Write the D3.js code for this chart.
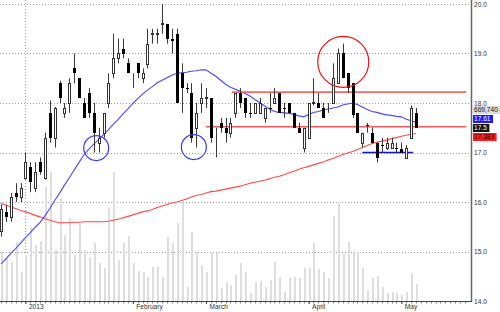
<!DOCTYPE html>
<html>
<head>
<meta charset="utf-8">
<script src="https://cdn.jsdelivr.net/npm/d3@7"></script>
<style>
  html, body { margin: 0; padding: 0; background: #fff; }
  svg text { font-family: "Liberation Sans", Arial, sans-serif; font-size: 6.6px; fill: #333; }
</style>
</head>
<body>
<svg id="chart" width="500" height="312"></svg>
<script>
// daily candles, late Dec 2012 .. early May 2013
var opens  = [15.4,15.8,15.7,16.18,16.1,16.48,16.7,16.28,16.8,16.5,17.8,17.3,18.4,17.8,18.0,18.7,18.5,18.0,18.2,17.8,17.2,17.4,18.0,18.6,18.9,
              19.1,18.8,18.5,18.8,18.5,18.8,19.4,19.4,19.6,19.6,19.3,19.4,18.6,18.3,18.2,17.5,18.0,18.1,18.1,17.45,17.6,17.5,17.4,17.8,
              18.2,18.1,17.8,17.8,17.8,17.7,17.9,18.0,18.2,17.9,18.0,17.8,17.5,17.1,17.3,18.0,18.0,17.9,17.9,18.0,18.4,19.0,18.6,18.4,
              17.8,17.2,17.55,17.4,17.2,17.15,17.1,17.1,17.1,17.08,16.9,17.3,17.8];
var highs  = [15.95,15.94,16.18,16.38,16.38,17.0,16.8,16.8,16.9,17.4,18.05,17.92,18.45,18.0,18.5,19.0,18.5,18.1,18.3,18.0,17.5,17.8,18.6,19.4,19.3,
              19.3,18.9,18.6,18.8,18.7,19.5,19.5,19.5,20.0,19.6,19.5,19.5,18.8,18.4,18.4,18.0,18.4,18.3,18.1,17.5,17.7,17.7,17.7,18.2,
              18.3,18.1,18.0,18.0,18.1,17.9,18.2,18.3,18.2,18.0,18.0,17.8,17.6,17.5,18.0,18.5,18.2,18.0,18.0,18.8,19.1,19.2,18.6,18.4,
              17.8,17.4,17.6,17.5,17.2,17.3,17.3,17.3,17.2,17.2,17.15,17.95,17.9];
var lows   = [15.3,15.6,15.6,16.0,16.0,16.45,16.2,16.2,16.55,16.45,17.2,17.1,18.0,17.7,17.8,18.4,18.1,17.7,17.7,17.0,17.0,17.3,17.9,18.5,18.8,
              18.9,18.6,18.3,18.5,18.4,18.7,19.2,19.2,19.4,19.2,19.0,18.0,17.8,18.2,17.2,17.1,17.8,17.9,17.2,16.9,17.4,17.2,17.3,17.7,
              17.9,17.7,17.7,17.8,17.8,17.6,17.8,18.0,17.8,17.7,17.8,17.5,17.4,17.0,17.3,17.95,17.9,17.7,17.8,18.0,18.4,18.5,18.2,17.7,
              17.4,17.1,17.4,17.2,16.8,17.0,17.05,17.1,17.0,17.0,16.9,17.3,17.5];
var closes = [15.85,15.7,16.1,16.1,16.28,16.8,16.4,16.6,16.6,17.3,17.3,17.9,18.1,17.9,18.4,18.6,18.1,17.7,17.8,17.4,17.3,17.8,18.4,18.9,19.0,
              19.0,18.6,18.5,18.6,18.6,19.2,19.42,19.42,19.62,19.3,19.25,18.0,18.3,18.28,17.3,17.8,18.1,18.12,17.3,17.45,17.5,17.4,17.6,18.2,
              18.0,17.8,17.78,18.0,18.0,17.9,17.88,18.1,17.8,17.88,17.8,17.5,17.4,17.5,18.0,18.02,17.9,17.7,17.9,18.5,19.0,18.5,18.3,17.75,
              17.4,17.4,17.53,17.2,16.9,17.14,17.2,17.2,17.09,17.0,17.1,17.9,17.5];
// volume, thousands of shares
var volumes = [1931,1694,1537,2325,1143,1812,2916,2206,2364,4492,5083,2009,4058,2600,3270,1812,3073,2009,1734,2285,1497,1300,3664,5083,1615,
               2285,2561,1497,1182,1143,946,1340,1340,946,2522,2285,3073,3861,552,2719,1931,1418,1143,1891,1891,512,749,630,1024,
               1497,1143,315,749,788,552,827,1537,946,355,906,946,906,1300,1300,2285,1261,1143,906,3349,3901,1891,2325,1891,
               1931,1300,433,906,985,552,315,355,315,236,355,1103,670];
var maShort = [14.75,14.85,14.96,15.06,15.17,15.28,15.38,15.49,15.59,15.72,15.87,16.03,16.18,16.34,16.49,16.65,16.80,16.96,17.07,17.17,17.26,17.36,17.46,17.57,17.67,
               17.78,17.88,17.99,18.09,18.18,18.26,18.33,18.41,18.46,18.51,18.56,18.60,18.61,18.62,18.64,18.65,18.67,18.67,18.60,18.54,18.46,18.38,18.32,18.28,
               18.24,18.19,18.14,18.07,18.01,17.94,17.88,17.83,17.81,17.80,17.79,17.77,17.74,17.72,17.77,17.81,17.83,17.86,17.88,17.90,17.92,17.96,17.98,18.00,
               17.97,17.92,17.87,17.83,17.81,17.78,17.76,17.75,17.73,17.72,17.67,17.64,17.61];
var maLong  = [15.97,15.94,15.90,15.87,15.83,15.80,15.77,15.73,15.70,15.66,15.63,15.60,15.58,15.58,15.58,15.59,15.59,15.60,15.60,15.60,15.60,15.60,15.61,15.63,15.65,
               15.68,15.71,15.74,15.77,15.80,15.82,15.85,15.89,15.92,15.95,15.98,16.00,16.03,16.06,16.10,16.13,16.15,16.18,16.21,16.22,16.24,16.26,16.28,16.30,
               16.32,16.35,16.38,16.40,16.42,16.44,16.47,16.50,16.52,16.55,16.59,16.62,16.66,16.69,16.72,16.75,16.78,16.81,16.85,16.88,16.92,16.96,16.99,17.02,
               17.06,17.10,17.14,17.18,17.21,17.23,17.25,17.28,17.30,17.33,17.35,17.37,17.383];

var priceTicks = [14, 15, 16, 17, 18, 19, 20];
var monthIdx = [5, 27, 42, 63, 82];
var monthLabels = ["2013", "February", "March", "April", "May"];

// drawn annotations (support / resistance)
var levelValues = [18.22, 17.52, 17.0];
var levelFrom   = [47.3, 42, 74];
var levelTo     = [95.3, 95.3, 84.4];
var levelColors = ["#f06a6a", "#f05a5a", "#1010ee"];
var circleIdx   = [19.5, 39.5, 70.1];
var circleVal   = [17.09, 17.11, 18.83];
var circleR     = [12.5, 12.5, 25.5];
var circleColor = ["#3a3aff", "#3a3aff", "#ee1111"];

var svg = d3.select("#chart");
var n = closes.length;

var x = d3.scaleLinear().domain([0, n - 1]).range([1, 416]);
var y = d3.scaleLinear().domain([14, 20]).range([301, 4]);
var yVol = d3.scaleLinear().domain([0, 11860]).range([301, 0]);
var axisX = 471;

var idx = d3.range(n);
function cx(i) { return Math.round(x(i)); }

// grid
svg.append("g").selectAll("line").data(priceTicks.filter(d => d > 14)).enter().append("line")
  .attr("x1", 0).attr("x2", axisX)
  .attr("y1", d => Math.round(y(d)) + 0.5).attr("y2", d => Math.round(y(d)) + 0.5)
  .attr("stroke", "#9a9a9a").attr("stroke-dasharray", "1,2");
svg.append("line")
  .attr("x1", cx(monthIdx[0]) + 0.5).attr("x2", cx(monthIdx[0]) + 0.5)
  .attr("y1", 0).attr("y2", 301)
  .attr("stroke", "#9a9a9a").attr("stroke-dasharray", "1,2");

// volume
svg.append("g").attr("shape-rendering", "crispEdges")
  .selectAll("rect").data(idx).enter().append("rect")
  .attr("x", i => cx(i)).attr("width", 2)
  .attr("y", i => yVol(volumes[i]))
  .attr("height", i => 301 - yVol(volumes[i]))
  .attr("fill", "#dedede");

// moving averages
var line = d3.line().x((d, i) => x(i)).y(d => y(d));
svg.append("path").datum(maLong).attr("d", line)
  .attr("fill", "none").attr("stroke", "#ff4a4a").attr("stroke-width", 1.1);
svg.append("path").datum(maShort).attr("d", line)
  .attr("fill", "none").attr("stroke", "#4848ff").attr("stroke-width", 1.1);

// level lines
svg.append("g").selectAll("line").data(levelValues).enter().append("line")
  .attr("x1", (d, k) => x(levelFrom[k])).attr("x2", (d, k) => x(levelTo[k]))
  .attr("y1", d => y(d)).attr("y2", d => y(d))
  .attr("stroke", (d, k) => levelColors[k])
  .attr("stroke-width", (d, k) => k == 0 ? 1.8 : 1.4);

// candles
var candles = svg.append("g");
candles.selectAll("line").data(idx).enter().append("line")
  .attr("x1", i => cx(i) + 0.5).attr("x2", i => cx(i) + 0.5)
  .attr("y1", i => y(highs[i])).attr("y2", i => y(lows[i]))
  .attr("stroke", "#3a3a3a").attr("stroke-width", 1);
candles.selectAll("rect.up").data(idx.filter(i => closes[i] >= opens[i])).enter().append("rect")
  .attr("class", "up")
  .attr("x", i => cx(i) - 0.5).attr("width", 2)
  .attr("y", i => Math.round(y(closes[i])) + 0.5)
  .attr("height", i => Math.max(0, Math.round(y(opens[i]) - y(closes[i]))))
  .attr("fill", "#fff").attr("stroke", "#333").attr("stroke-width", 1);
candles.selectAll("rect.down").data(idx.filter(i => closes[i] < opens[i])).enter().append("rect")
  .attr("class", "down").attr("shape-rendering", "crispEdges")
  .attr("x", i => cx(i) - 1).attr("width", 3)
  .attr("y", i => Math.round(y(opens[i])))
  .attr("height", i => Math.max(1, Math.round(y(closes[i]) - y(opens[i]))))
  .attr("fill", "#000");

// circles
svg.append("g").selectAll("circle").data(circleIdx).enter().append("circle")
  .attr("cx", d => x(d)).attr("cy", (d, k) => y(circleVal[k]))
  .attr("r", (d, k) => circleR[k])
  .attr("fill", "none").attr("stroke", (d, k) => circleColor[k]).attr("stroke-width", 1.2);

// right axis
svg.append("line").attr("x1", axisX + 0.5).attr("x2", axisX + 0.5).attr("y1", 0).attr("y2", 302)
  .attr("stroke", "#666").attr("stroke-width", 1.5);
var yAxis = d3.axisRight(y).tickValues(priceTicks).tickFormat(d3.format(".1f")).tickSize(0).tickPadding(3);
var ya = svg.append("g").attr("transform", "translate(" + axisX + ",0)").call(yAxis);
ya.select(".domain").remove();

// bottom axis
svg.append("line").attr("x1", 0).attr("x2", axisX + 1).attr("y1", 301.5).attr("y2", 301.5)
  .attr("stroke", "#444").attr("stroke-width", 1);
svg.append("g").selectAll("line").data(d3.range(0, 96)).enter().append("line")
  .attr("x1", i => cx(i) + 0.5).attr("x2", i => cx(i) + 0.5)
  .attr("y1", 302).attr("y2", 303.5).attr("stroke", "#888");
var xAxis = d3.axisBottom(x).tickValues(monthIdx).tickFormat((d, k) => monthLabels[k]).tickSize(3).tickPadding(1);
var xa = svg.append("g").attr("transform", "translate(0,301)").call(xAxis);
xa.select(".domain").remove();
xa.selectAll(".tick line").attr("stroke", "#444");
xa.selectAll(".tick text").attr("text-anchor", "start").attr("dx", 3).attr("dy", "0.55em");

// last-value labels stacked at the right
var lastLabels = ["669,740", "17.61", "17.5", "17.383"];
var lastFill = ["#dcdcdc", "#1a1aff", "#111", "#ff1a1a"];
var lastText = ["#222", "#fff", "#fff", "#300"];
var baseY = y(closes[n - 1]);
var lab = svg.append("g").selectAll("g").data(lastLabels).enter().append("g")
  .attr("transform", (d, k) => "translate(" + (axisX + 2) + "," + Math.round(baseY + (k - 2) * 9) + ")");
lab.append("rect").attr("x", 0).attr("y", -4).attr("height", 8)
  .attr("width", d => d.length * 3.6 + 2).attr("fill", (d, k) => lastFill[k]);
lab.append("text").attr("x", 1).attr("y", 2.4).text(d => d).style("fill", (d, k) => lastText[k]);
</script>
</body>
</html>
